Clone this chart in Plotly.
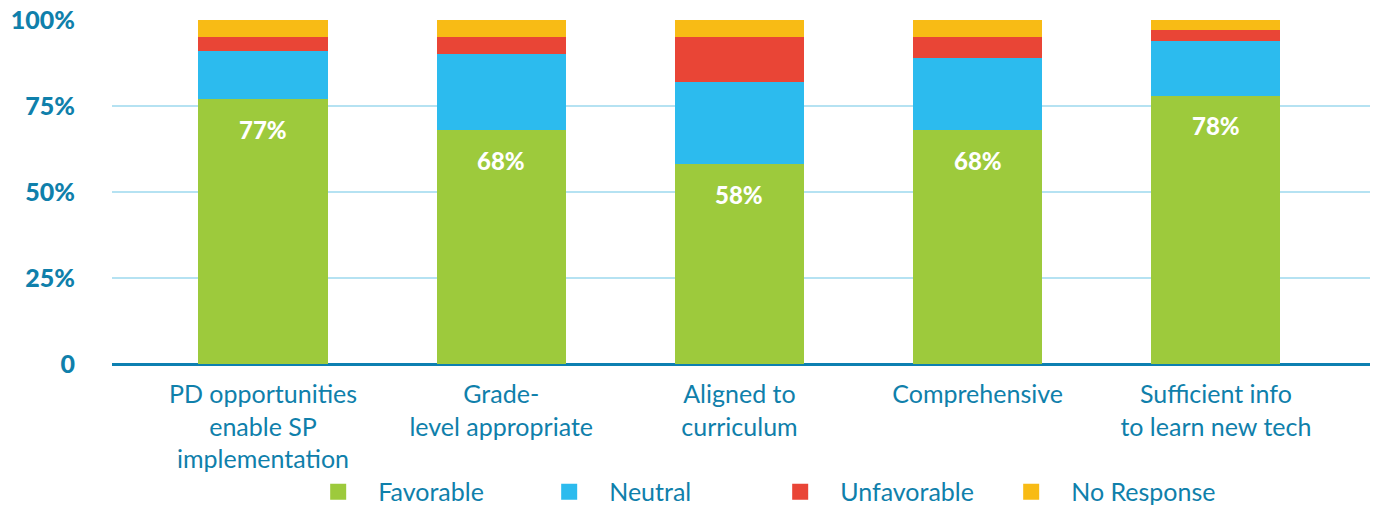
import plotly.graph_objects as go

# Survey items and response shares (%)
categories = [
    "PD opportunities<br>enable SP<br>implementation",
    "Grade-<br>level appropriate",
    "Aligned to<br>curriculum",
    "Comprehensive",
    "Sufficient info<br>to learn new tech",
]
favorable = [77, 68, 58, 68, 78]
neutral = [14, 22, 24, 21, 16]
unfavorable = [4, 5, 13, 6, 3]
no_response = [5, 5, 5, 5, 3]

series = [
    ("Favorable", favorable, "#9dca3c"),
    ("Neutral", neutral, "#2cbbee"),
    ("Unfavorable", unfavorable, "#e94536"),
    ("No Response", no_response, "#f8bb15"),
]

TEXT_BLUE = "#0f80ab"

fig = go.Figure()
for name, vals, color in series:
    fig.add_trace(go.Bar(
        x=categories, y=vals, name=name, legendgroup=name,
        marker=dict(color=color, line=dict(width=0)),
        hoverinfo="skip", showlegend=False,
    ))
    # larger square swatch for the legend entry
    fig.add_trace(go.Scatter(
        x=[None], y=[None], name=name, legendgroup=name, mode="markers",
        marker=dict(symbol="square", size=17, color=color),
        hoverinfo="skip",
    ))

# White value labels inside the favorable segment
for cat, val in zip(categories, favorable):
    fig.add_annotation(
        x=cat, y=val, text=f"{val}%", showarrow=False,
        yshift=-30, yanchor="middle",
        font=dict(family="Lato", size=24, color="white", weight=900),
    )

fig.update_layout(
    barmode="stack",
    bargap=0.458,
    width=1377, height=506,
    margin=dict(l=112, r=7, t=20, b=142, autoexpand=False),
    plot_bgcolor="white", paper_bgcolor="white",
    showlegend=True,
    legend=dict(
        orientation="h", x=0.148, xanchor="left", y=-0.372, yanchor="middle",
        font=dict(family="Lato", size=25, color=TEXT_BLUE),
        entrywidth=146, entrywidthmode="pixels", itemwidth=70,
        traceorder="normal", itemsizing="trace",
    ),
    xaxis=dict(
        range=[-0.634, 4.647],
        showgrid=False, zeroline=False, showline=False,
        ticks="", ticklabelstandoff=13,
        tickfont=dict(family="Lato", size=25, color=TEXT_BLUE),
        fixedrange=True,
    ),
    yaxis=dict(
        range=[0, 100],
        tickvals=[0, 25, 50, 75, 100],
        ticktext=["0", "25%", "50%", "75%", "100%"],
        showgrid=True, gridcolor="#b5e2f2", gridwidth=2,
        zeroline=True, zerolinecolor="#0d80b1", zerolinewidth=3,
        showline=False, ticks="", ticklabelstandoff=36,
        tickfont=dict(family="Lato", size=25, color=TEXT_BLUE, weight=900),
        fixedrange=True,
    ),
)

fig.write_html("out.html")
